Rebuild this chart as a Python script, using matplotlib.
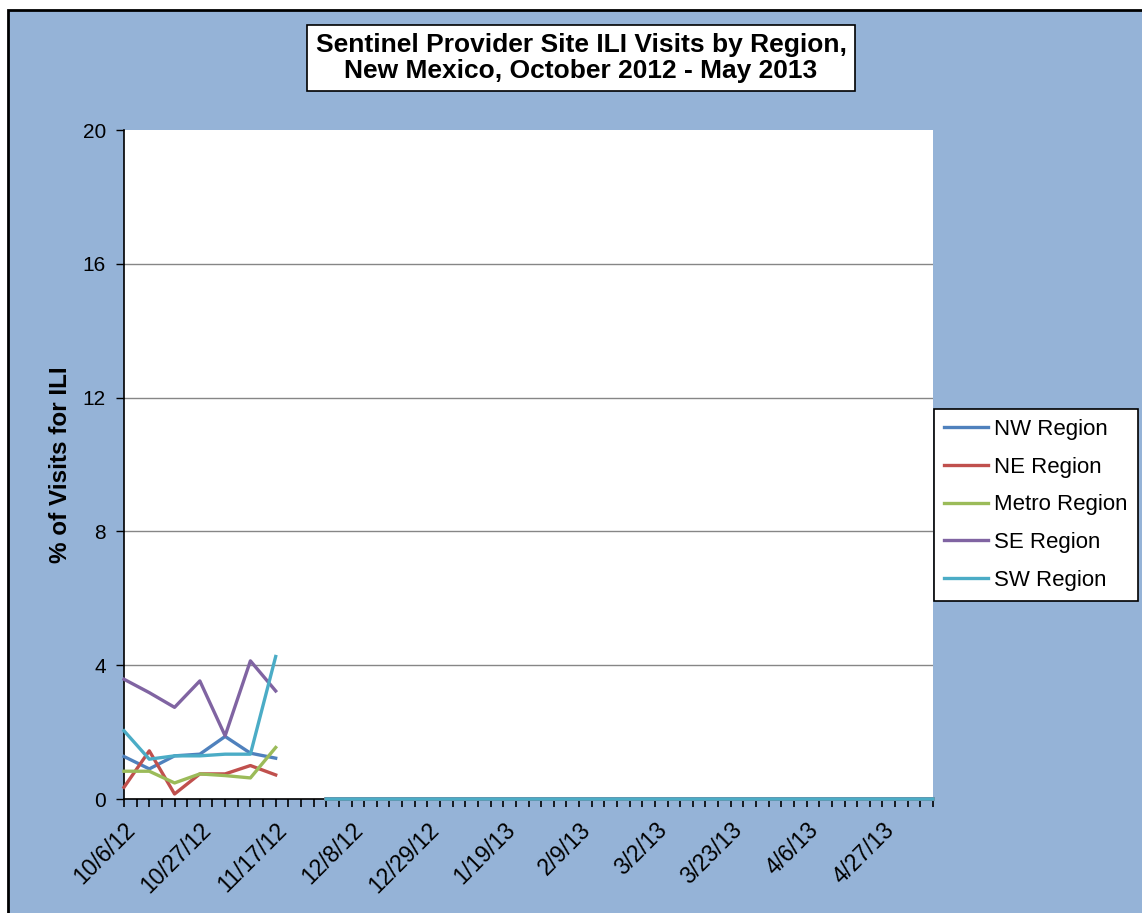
import matplotlib
matplotlib.use('Agg')
import matplotlib.pyplot as plt
from matplotlib.patches import Rectangle

plt.rcParams['font.family'] = ['Liberation Sans', 'DejaVu Sans']

# weekly categories 10/6/12 ... 5/18/13 (33 weeks), labels every 3rd week
n_weeks = 33
tick_pos = [0, 3, 6, 9, 12, 15, 18, 21, 24, 27, 30]
tick_labels = ['10/6/12', '10/27/12', '11/17/12', '12/8/12', '12/29/12', '1/19/13',
               '2/9/13', '3/2/13', '3/23/13', '4/6/13', '4/27/13']

N = None
# reported weeks, then one blank week, then zeros for weeks not yet reported
nw = [1.27, 0.90, 1.29, 1.34, 1.87, 1.37, 1.22, N,
      0, 0, 0, 0, 0, 0, 0, 0, 0, 0, 0, 0, 0, 0, 0, 0, 0, 0, 0, 0, 0, 0, 0, 0, 0]
ne = [0.35, 1.44, 0.15, 0.75, 0.75, 1.00, 0.72, N,
      0, 0, 0, 0, 0, 0, 0, 0, 0, 0, 0, 0, 0, 0, 0, 0, 0, 0, 0, 0, 0, 0, 0, 0, 0]
metro = [0.83, 0.83, 0.48, 0.75, 0.70, 0.63, 1.54, N,
         0, 0, 0, 0, 0, 0, 0, 0, 0, 0, 0, 0, 0, 0, 0, 0, 0, 0, 0, 0, 0, 0, 0, 0, 0]
se = [3.58, 3.18, 2.74, 3.53, 1.89, 4.13, 3.23, N,
      0, 0, 0, 0, 0, 0, 0, 0, 0, 0, 0, 0, 0, 0, 0, 0, 0, 0, 0, 0, 0, 0, 0, 0, 0]
sw = [2.04, 1.19, 1.29, 1.29, 1.34, 1.34, 4.26, N,
      0, 0, 0, 0, 0, 0, 0, 0, 0, 0, 0, 0, 0, 0, 0, 0, 0, 0, 0, 0, 0, 0, 0, 0, 0]

series = [('NW Region', nw, '#4F81BD'),
          ('NE Region', ne, '#C0504D'),
          ('Metro Region', metro, '#9BBB59'),
          ('SE Region', se, '#8064A2'),
          ('SW Region', sw, '#4BACC6')]

bg = '#95B3D7'

fig = plt.figure(figsize=(11.42, 9.13), dpi=100, facecolor='white')
fig.patches.append(Rectangle((8/1142, -0.05), 1.2, 1 - 10/913 + 0.05,
                             transform=fig.transFigure, facecolor=bg,
                             edgecolor='black', lw=2, zorder=-10))

ax = fig.add_axes([124/1142, 1 - 799/913, 809/1142, 669/913])
ax.set_facecolor('white')

x = list(range(n_weeks))
for name, vals, col in series:
    y = [float('nan') if v is None else v for v in vals]
    ax.plot(x, y, color=col, lw=2.4, label=name, zorder=3, clip_on=False)

ax.set_xlim(0, n_weeks - 1)
ax.set_ylim(0, 20)
ax.set_yticks([0, 4, 8, 12, 16, 20])
ax.tick_params(axis='y', labelsize=15, direction='out', length=6, width=1, pad=7)
ax.set_xticks([i / 2 for i in range(2 * (n_weeks - 1) + 1)], minor=True)
ax.set_xticks(tick_pos)
ax.set_xticklabels(tick_labels, rotation=45, ha='right', rotation_mode='anchor', fontsize=16.5)
ax.tick_params(axis='x', which='both', direction='out', length=6, width=1.2, pad=8)
ax.grid(axis='y', color='#868686', lw=1)
ax.get_ygridlines()[-1].set_visible(False)
ax.set_axisbelow(True)
for s in ['top', 'right']:
    ax.spines[s].set_visible(False)
ax.spines['left'].set_linewidth(1.2)
ax.spines['bottom'].set_linewidth(1.2)

ax.set_ylabel('% of Visits for ILI', fontsize=17.5, fontweight='bold', labelpad=8)

fig.text(581/1142, 1 - 58/913,
         'Sentinel Provider Site ILI Visits by Region,\nNew Mexico, October 2012 - May 2013',
         ha='center', va='center', fontsize=19, fontweight='bold', linespacing=1.1,
         bbox=dict(facecolor='white', edgecolor='black', lw=1.2, pad=6))

leg = ax.legend(loc='upper left', bbox_to_anchor=(934/1142, 1 - 409/913),
                bbox_transform=fig.transFigure, borderaxespad=0, fontsize=16,
                frameon=True, fancybox=False, edgecolor='black', framealpha=1,
                handlelength=2.0, handletextpad=0.25, labelspacing=0.75,
                borderpad=0.45)
leg.get_frame().set_linewidth(1.2)

fig.savefig('out.png', dpi=100, facecolor='white')
